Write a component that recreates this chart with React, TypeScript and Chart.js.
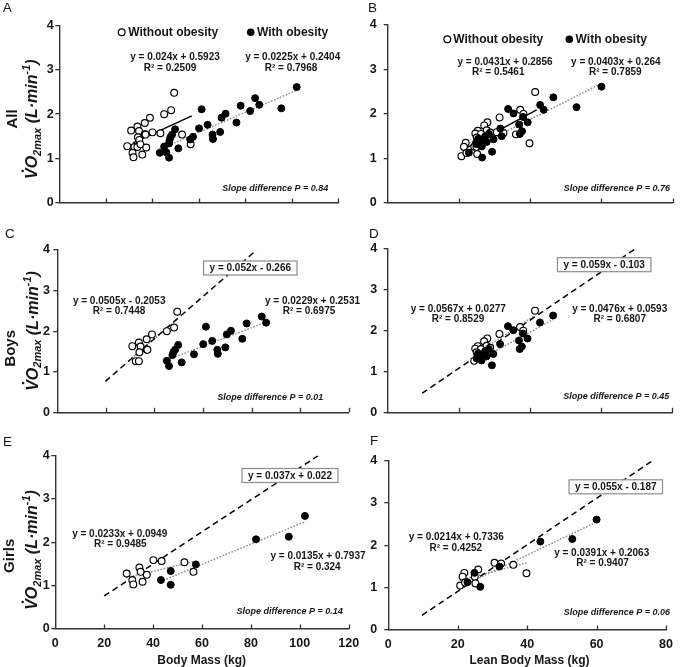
import React, { useEffect, useRef } from "react";
import { Chart, registerables } from "chart.js";

Chart.register(...registerables);

const FAM = "'Liberation Sans', Arial, Helvetica, sans-serif";
const INK = "#161616";
const AXIS = "#333333";
const DOT = "#8a8a8a";
const W = 680;
const H = 667;

// ---------- Boys, body mass (panel C) ----------
const boysOpenBodyMass = [49.4, 48.1, 45.1, 39.0, 36.8, 33.6, 30.9, 34.3, 36.8, 37.1, 33.8, 32.3, 33.6];
const boysOpenVO2_BM = [2.48, 2.09, 2.0, 1.92, 1.8, 1.72, 1.63, 1.62, 1.55, 1.54, 1.48, 1.26, 1.26];
const boysObeseBodyMass = [84.2, 86.0, 78.0, 76.2, 71.5, 69.8, 61.2, 63.8, 60.1, 69.2, 65.9, 66.1, 56.3, 49.8, 48.5, 47.8, 47.4, 45.1, 46.0, 51.2];
const boysObeseVO2_BM = [2.36, 2.21, 2.19, 1.81, 2.01, 1.92, 2.11, 1.76, 1.68, 1.6, 1.54, 1.44, 1.43, 1.66, 1.54, 1.48, 1.41, 1.27, 1.14, 1.23];

// ---------- Girls, body mass (panel E) ----------
const girlsOpenBodyMass = [29.2, 31.5, 31.9, 34.4, 34.9, 35.7, 37.4, 40.1, 43.5, 52.8, 56.5];
const girlsOpenVO2_BM = [1.28, 1.13, 1.03, 1.42, 1.32, 1.09, 1.25, 1.59, 1.57, 1.54, 1.32];
const girlsObeseBodyMass = [43.2, 47.2, 47.2, 57.5, 82.1, 95.5, 102.1];
const girlsObeseVO2_BM = [1.13, 1.34, 1.02, 1.49, 2.07, 2.13, 2.61];

// ---------- Boys, lean body mass (panel D) ----------
const boysOpenLeanMass = [41.4, 37.2, 38.1, 31.4, 28.0, 27.1, 25.3, 24.6, 27.8, 24.3, 26.2, 28.8, 25.0];
const boysOpenVO2_LBM = [2.49, 2.09, 2.0, 1.92, 1.81, 1.74, 1.62, 1.56, 1.63, 1.26, 1.55, 1.58, 1.47];
const boysObeseLeanMass = [46.5, 42.8, 33.8, 35.3, 38.0, 39.3, 36.9, 31.6, 37.7, 37.1, 28.4, 29.7, 25.9, 26.4, 29.3, 25.4, 27.4, 25.0, 27.8, 26.8];
const boysObeseVO2_LBM = [2.37, 2.2, 2.11, 2.01, 1.93, 1.81, 1.76, 1.67, 1.61, 1.55, 1.55, 1.43, 1.37, 1.27, 1.15, 1.44, 1.5, 1.32, 1.37, 1.4];

// ---------- Girls, lean body mass (panel F) ----------
const girlsOpenLeanMass = [20.7, 21.9, 21.4, 24.9, 25.1, 25.9, 30.6, 32.5, 36.0, 39.8, 22.1];
const girlsOpenVO2_LBM = [1.05, 1.35, 1.26, 1.26, 1.1, 1.43, 1.59, 1.57, 1.54, 1.34, 1.12];
const girlsObeseLeanMass = [24.8, 22.8, 26.5, 32.0, 43.8, 53.0, 60.0];
const girlsObeseVO2_LBM = [1.35, 1.13, 1.02, 1.5, 2.09, 2.15, 2.61];

// ---------- panels ----------
const panelLetters = ["A", "B", "C", "D", "E", "F"];
const xMaxValues = [120, 80, 120, 80, 120, 80];
const yTickValues = [0, 1, 2, 3, 4];

// regression lines (slope, intercept, x range)
const openSlope = [0.024, 0.0431, 0.0505, 0.0567, 0.0135, 0.0214];
const openIntercept = [0.5923, 0.2856, -0.2053, 0.0277, 0.7937, 0.7336];
const openFrom = [31.7, 20.8, 30.5, 24.0, 29.0, 20.7];
const openTo = [57.0, 41.8, 49.5, 41.5, 57.0, 40.0];
const obeseSlope = [0.0225, 0.0403, 0.0229, 0.0476, 0.0233, 0.0391];
const obeseIntercept = [0.2404, 0.264, 0.2531, 0.0593, 0.0949, 0.2063];
const obeseFrom = [43.0, 22.5, 45.0, 25.0, 43.0, 22.0];
const obeseTo = [102.0, 60.0, 86.0, 46.5, 102.5, 60.0];
const commonSlope = [null, null, 0.052, 0.059, 0.037, 0.055];
const commonIntercept = [null, null, -0.266, -0.103, 0.022, -0.187];
const commonFrom = [null, null, 19.8, 9.7, 20.0, 9.7];
const commonTo = [null, null, 82.0, 69.5, 107.5, 76.0];

// printed labels
const leftEqText = ["y = 0.024x + 0.5923", "y = 0.0431x + 0.2856", "y = 0.0505x - 0.2053", "y = 0.0567x + 0.0277", "y = 0.0233x + 0.0949", "y = 0.0214x + 0.7336"];
const leftR2Text = ["R² = 0.2509", "R² = 0.5461", "R² = 0.7448", "R² = 0.8529", "R² = 0.9485", "R² = 0.4252"];
const rightEqText = ["y = 0.0225x + 0.2404", "y = 0.0403x + 0.264", "y = 0.0229x + 0.2531", "y = 0.0476x + 0.0593", "y = 0.0135x + 0.7937", "y = 0.0391x + 0.2063"];
const rightR2Text = ["R² = 0.7968", "R² = 0.7859", "R² = 0.6975", "R² = 0.6807", "R² = 0.324", "R² = 0.9407"];
const commonEqText = [null, null, "y = 0.052x - 0.266", "y = 0.059x - 0.103", "y = 0.037x + 0.022", "y = 0.055x - 0.187"];
const slopeP = ["0.84", "0.76", "0.01", "0.45", "0.14", "0.06"];
const groupTitles = ["All", null, "Boys", null, "Girls", null];
const xTitles = [null, null, null, null, "Body Mass (kg)", "Lean Body Mass (kg)"];
const legendTexts = ["Without obesity", "With obesity"];

// panel data sets ("All" = boys + girls)
const panelOpenX = [
  [...boysOpenBodyMass, ...girlsOpenBodyMass],
  [...boysOpenLeanMass, ...girlsOpenLeanMass],
  boysOpenBodyMass, boysOpenLeanMass, girlsOpenBodyMass, girlsOpenLeanMass,
];
const panelOpenY = [
  [...boysOpenVO2_BM, ...girlsOpenVO2_BM],
  [...boysOpenVO2_LBM, ...girlsOpenVO2_LBM],
  boysOpenVO2_BM, boysOpenVO2_LBM, girlsOpenVO2_BM, girlsOpenVO2_LBM,
];
const panelObeseX = [
  [...boysObeseBodyMass, ...girlsObeseBodyMass],
  [...boysObeseLeanMass, ...girlsObeseLeanMass],
  boysObeseBodyMass, boysObeseLeanMass, girlsObeseBodyMass, girlsObeseLeanMass,
];
const panelObeseY = [
  [...boysObeseVO2_BM, ...girlsObeseVO2_BM],
  [...boysObeseVO2_LBM, ...girlsObeseVO2_LBM],
  boysObeseVO2_BM, boysObeseVO2_LBM, girlsObeseVO2_BM, girlsObeseVO2_LBM,
];

// ---------- layout (page pixels) ----------
type P = [number, number];
interface Lay {
  rect: [number, number, number, number];
  yPad: number;
  showX: boolean;
  letter: P;
  leftEq: P; leftR2: P; rightEq: P; rightR2: P;
  box?: P;
  slope: P;
  legend?: [number, number, number, number];
  group?: [number, number];
  vo2?: [number, number];
  xTitle?: P;
}
const LAYOUT: Lay[] = [
  { rect: [59.3, 338.3, 25.3, 203], yPad: 1.5, showX: false, letter: [2.7, 12],
    leftEq: [175, 57.3], leftR2: [170, 68.3], rightEq: [292.7, 57.3], rightR2: [291, 68.3],
    slope: [328.3, 188.3], legend: [121.7, 128.3, 250.7, 32.3], group: [17, 119], vo2: [37, 119.2] },
  { rect: [387.7, 672.7, 24.7, 203], yPad: 7, showX: false, letter: [368, 12],
    leftEq: [505, 62.3], leftR2: [498.2, 72.7], rightEq: [615.8, 62.3], rightR2: [615.3, 72.7],
    slope: [670, 189], legend: [447.3, 453.3, 569.3, 39.3] },
  { rect: [57.3, 348.7, 250, 412.3], yPad: 3.3, showX: false, letter: [5, 238.3],
    leftEq: [119.2, 301], leftR2: [119, 311.7], rightEq: [312.5, 301.5], rightR2: [309, 311.7],
    box: [250.3, 268], slope: [323.3, 398], group: [14.5, 348.3], vo2: [37.5, 331] },
  { rect: [387.7, 672.3, 249, 412.3], yPad: 6.4, showX: false, letter: [369, 237.5],
    leftEq: [458.3, 309.3], leftR2: [458, 319.3], rightEq: [619.7, 309.3], rightR2: [619.7, 319.3],
    box: [604.2, 264.7], slope: [669.3, 396.7] },
  { rect: [55.3, 348.7, 455.7, 629], yPad: 1.5, showX: true, letter: [3, 445.5],
    leftEq: [119.7, 534.3], leftR2: [120.3, 544.3], rightEq: [318, 556.7], rightR2: [317.2, 567.3],
    box: [290, 475.5], slope: [342.7, 611.7], group: [14, 555.8], vo2: [37, 550], xTitle: [201.7, 663.5] },
  { rect: [388.3, 671.7, 460.7, 630], yPad: 7, showX: true, letter: [370, 444.5],
    leftEq: [456.3, 537.7], leftR2: [455.8, 548.3], rightEq: [601.7, 553.3], rightR2: [602.5, 563.3],
    box: [615.8, 486.8], slope: [670, 612.3], xTitle: [529.5, 663.5] },
];

const Y_AXIS_W = 40;
const X_AXIS_H = 30;

function pts(xs: number[], ys: number[]) {
  return xs.map((x, i) => ({ x, y: ys[i] }));
}
function fitLine(m: number, b: number, x0: number, x1: number) {
  return [{ x: x0, y: m * x0 + b }, { x: x1, y: m * x1 + b }];
}

function drawVO2(ctx: CanvasRenderingContext2D, bx: number, cy: number) {
  const big = `italic bold 16px ${FAM}`;
  const small = `italic bold 11px ${FAM}`;
  const parts: [string, string, number][] = [
    ["V", big, 0], ["O", big, 0], ["2max", small, 3.5], [" (L·min", big, 0], ["-1", small, -7], [")", big, 0],
  ];
  ctx.save();
  ctx.translate(bx, cy);
  ctx.rotate(-Math.PI / 2);
  ctx.textAlign = "left";
  ctx.textBaseline = "alphabetic";
  let total = 0;
  for (const [t, f] of parts) { ctx.font = f; total += ctx.measureText(t).width; }
  let cx = -total / 2;
  for (const [t, f, dy] of parts) {
    ctx.font = f;
    const w = ctx.measureText(t).width;
    ctx.fillText(t, cx, dy);
    if (t === "V") {
      ctx.beginPath();
      ctx.arc(cx + w * 0.5 + 2.6, -14.3, 1.25, 0, Math.PI * 2);
      ctx.fill();
    }
    cx += w;
  }
  ctx.restore();
}

function annotations(i: number) {
  return {
    id: "ann" + i,
    afterDraw(chart: any) {
      const ctx: CanvasRenderingContext2D = chart.ctx;
      const L = LAYOUT[i];
      const xs = chart.scales.x;
      const ys = chart.scales.y;
      ctx.save();
      // inward x-axis tick marks
      ctx.strokeStyle = AXIS;
      ctx.lineWidth = 1.3;
      xs.ticks.forEach((t: any) => {
        if (t.value === 0) return;
        const px = Math.round(xs.getPixelForValue(t.value)) + 0.5;
        ctx.beginPath();
        ctx.moveTo(px, ys.bottom);
        ctx.lineTo(px, ys.bottom - 4.5);
        ctx.stroke();
      });
      ctx.fillStyle = INK;
      // panel letter
      ctx.textAlign = "left";
      ctx.textBaseline = "alphabetic";
      ctx.font = `13.5px ${FAM}`;
      ctx.fillText(panelLetters[i], L.letter[0], L.letter[1]);
      // equations
      ctx.textAlign = "center";
      ctx.textBaseline = "middle";
      ctx.font = `bold 10px ${FAM}`;
      ctx.fillText(leftEqText[i], L.leftEq[0], L.leftEq[1]);
      ctx.fillText(leftR2Text[i], L.leftR2[0], L.leftR2[1]);
      ctx.fillText(rightEqText[i], L.rightEq[0], L.rightEq[1]);
      ctx.fillText(rightR2Text[i], L.rightR2[0], L.rightR2[1]);
      const ce = commonEqText[i];
      if (ce && L.box) {
        const w = ctx.measureText(ce).width + 12;
        const h = 14;
        const [cx, cy] = L.box;
        ctx.fillStyle = "#ffffff";
        ctx.fillRect(cx - w / 2, cy - h / 2, w, h);
        ctx.strokeStyle = "#8c8c8c";
        ctx.lineWidth = 1.2;
        ctx.strokeRect(cx - w / 2, cy - h / 2, w, h);
        ctx.fillStyle = INK;
        ctx.fillText(ce, cx, cy + 0.5);
      }
      // slope difference
      ctx.textAlign = "right";
      ctx.font = `italic bold 9px ${FAM}`;
      ctx.fillText(`Slope difference P = ${slopeP[i]}`, L.slope[0], L.slope[1]);
      // legend
      if (L.legend) {
        const [c1, t1, c2, ly] = L.legend;
        ctx.lineWidth = 1.2;
        ctx.strokeStyle = "#000";
        ctx.fillStyle = "#fff";
        ctx.beginPath(); ctx.arc(c1, ly, 3.4, 0, Math.PI * 2); ctx.fill(); ctx.stroke();
        ctx.fillStyle = "#000";
        ctx.beginPath(); ctx.arc(c2, ly, 3.8, 0, Math.PI * 2); ctx.fill();
        ctx.fillStyle = INK;
        ctx.textAlign = "left";
        ctx.font = `bold 12px ${FAM}`;
        ctx.fillText(legendTexts[0], t1, ly);
        ctx.fillText(legendTexts[1], c2 + 6.3, ly);
      }
      // y titles
      const g = groupTitles[i];
      if (g && L.group) {
        ctx.save();
        ctx.translate(L.group[0], L.group[1]);
        ctx.rotate(-Math.PI / 2);
        ctx.textAlign = "center";
        ctx.textBaseline = "alphabetic";
        ctx.font = `bold 15px ${FAM}`;
        ctx.fillText(g, 0, 0);
        ctx.restore();
      }
      if (L.vo2) drawVO2(ctx, L.vo2[0], L.vo2[1]);
      // x title
      const xt = xTitles[i];
      if (xt && L.xTitle) {
        ctx.textAlign = "center";
        ctx.textBaseline = "alphabetic";
        ctx.font = `bold 12px ${FAM}`;
        ctx.fillText(xt, L.xTitle[0], L.xTitle[1]);
      }
      ctx.restore();
    },
  };
}

function buildConfig(i: number): any {
  const L = LAYOUT[i];
  const [left, right, top, bottom] = L.rect;
  const solidOpen = i < 2;
  const datasets: any[] = [
    {
      label: legendTexts[1],
      data: pts(panelObeseX[i], panelObeseY[i]),
      backgroundColor: "#000",
      borderColor: "#000",
      borderWidth: 1,
      pointRadius: 3.5,
      order: 0,
    },
    {
      label: legendTexts[0],
      data: pts(panelOpenX[i], panelOpenY[i]),
      backgroundColor: "#fff",
      borderColor: "#000",
      borderWidth: 1.15,
      pointRadius: 3.4,
      order: 1,
    },
    {
      label: "fit open",
      data: fitLine(openSlope[i], openIntercept[i], openFrom[i], openTo[i]),
      showLine: true,
      pointRadius: 0,
      borderColor: solidOpen ? "#000" : DOT,
      borderWidth: solidOpen ? 1.5 : 1.4,
      borderDash: solidOpen ? [] : [1.6, 1.6],
      order: 4,
    },
    {
      label: "fit obese",
      data: fitLine(obeseSlope[i], obeseIntercept[i], obeseFrom[i], obeseTo[i]),
      showLine: true,
      pointRadius: 0,
      borderColor: DOT,
      borderWidth: 1.4,
      borderDash: [1.6, 1.6],
      order: 3,
    },
  ];
  const cm = commonSlope[i];
  if (cm !== null) {
    datasets.push({
      label: "common",
      data: fitLine(cm, commonIntercept[i] as number, commonFrom[i] as number, commonTo[i] as number),
      showLine: true,
      pointRadius: 0,
      borderColor: "#000",
      borderWidth: 1.5,
      borderDash: [6, 4],
      order: 2,
    });
  }
  const tickFont = { family: FAM, size: 12.5, weight: "bold" as const };
  return {
    type: "scatter",
    data: { datasets },
    options: {
      responsive: false,
      animation: false,
      events: [],
      layout: {
        padding: { left: left - Y_AXIS_W, right: W - right, top: top, bottom: H - bottom - X_AXIS_H },
      },
      plugins: { legend: { display: false }, tooltip: { enabled: false }, title: { display: false } },
      scales: {
        x: {
          type: "linear",
          min: 0,
          max: xMaxValues[i],
          afterFit: (s: any) => { s.height = X_AXIS_H; },
          border: { display: true, color: AXIS, width: 1.4 },
          grid: { display: false, drawTicks: false, tickLength: 0 },
          ticks: { display: L.showX, stepSize: 20, padding: 7, color: INK, font: tickFont, maxRotation: 0 },
        },
        y: {
          type: "linear",
          min: 0,
          max: 4,
          afterFit: (s: any) => { s.width = Y_AXIS_W; },
          afterBuildTicks: (s: any) => { s.ticks = yTickValues.map((v) => ({ value: v })); },
          border: { display: true, color: AXIS, width: 1.4 },
          grid: { display: true, drawOnChartArea: false, drawTicks: true, tickLength: 4, color: AXIS, lineWidth: 1.3 },
          ticks: { padding: L.yPad, color: INK, font: tickFont },
        },
      },
    },
    plugins: [annotations(i)],
  };
}

export default function App() {
  const refs = useRef<(HTMLCanvasElement | null)[]>([]);
  useEffect(() => {
    const charts = panelLetters.map((_, i) => new Chart(refs.current[i] as HTMLCanvasElement, buildConfig(i)));
    return () => charts.forEach((c) => c.destroy());
  }, []);
  return (
    <div style={{ position: "absolute", left: 0, top: 0, width: W, height: H, background: "#fff" }}>
      {panelLetters.map((l, i) => (
        <canvas
          key={l}
          ref={(el) => { refs.current[i] = el; }}
          width={W}
          height={H}
          style={{ position: "absolute", left: 0, top: 0, width: W, height: H }}
        />
      ))}
    </div>
  );
}
